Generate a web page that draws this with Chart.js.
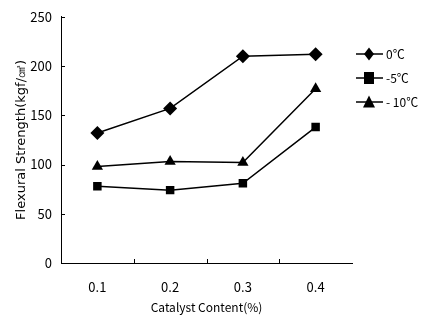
<!DOCTYPE html>
<html>
<head>
<meta charset="utf-8">
<script src="https://cdn.jsdelivr.net/npm/chart.js@4/dist/chart.umd.min.js"></script>
<style>
  html, body { margin: 0; padding: 0; background: #fff; }
  #wrap { width: 437px; height: 328px; }
</style>
</head>
<body>
<div id="wrap"><canvas id="canvasFlexural" width="437" height="328"></canvas></div>
<script>
const catalystContent = ["0.1", "0.2", "0.3", "0.4"];
const strength0C = [132, 157, 210, 212];
const strengthMinus5C = [78, 74, 81, 138];
const strengthMinus10C = [98, 103, 102, 177];
const seriesNames = ["0\u2103", "-5\u2103", "- 10\u2103"];
const yTicks = [0, 50, 100, 150, 200, 250];

const FONT = "'Noto Sans CJK KR', 'DejaVu Sans', sans-serif";
const TITLE_FONT = "'DejaVu Sans', sans-serif";

// short tick marks drawn inside the plot area
const innerTicks = {
    id: 'innerTicks',
    afterDraw(chart) {
        const ctx = chart.ctx;
        const x = chart.scales.x, y = chart.scales.y;
        ctx.save();
        ctx.strokeStyle = '#000';
        ctx.lineWidth = 1;
        ctx.beginPath();
        yTicks.forEach(v => {
            if (v === 0) return;
            const py = Math.round(y.getPixelForValue(v)) + 0.5;
            ctx.moveTo(x.left, py);
            ctx.lineTo(x.left + 4, py);
        });
        for (let i = 1; i < catalystContent.length; i++) {
            const px = Math.round((x.getPixelForValue(i - 1) + x.getPixelForValue(i)) / 2) + 0.5;
            ctx.moveTo(px, y.bottom);
            ctx.lineTo(px, y.bottom - 4);
        }
        ctx.stroke();
        ctx.restore();
    }
};

function drawMarker(ctx, style, cx, cy) {
    ctx.beginPath();
    if (style === 'rectRot') {
        ctx.moveTo(cx, cy - 6.5); ctx.lineTo(cx + 5, cy); ctx.lineTo(cx, cy + 6.5); ctx.lineTo(cx - 5, cy);
    } else if (style === 'rect') {
        ctx.rect(cx - 5, cy - 6, 10, 12);
    } else {
        ctx.moveTo(cx, cy - 6.5); ctx.lineTo(cx + 6, cy + 5.5); ctx.lineTo(cx - 6, cy + 5.5);
    }
    ctx.closePath();
    ctx.fill();
}

// legend: short line with marker, then the label
const lineLegend = {
    id: 'lineLegend',
    afterDraw(chart) {
        const ctx = chart.ctx;
        ctx.save();
        ctx.fillStyle = '#000';
        ctx.strokeStyle = '#000';
        ctx.lineWidth = 1.5;
        ctx.font = '12px ' + FONT;
        ctx.textBaseline = 'middle';
        chart.data.datasets.forEach((ds, i) => {
            const ly = 54 + i * 24;
            ctx.beginPath();
            ctx.moveTo(356, ly);
            ctx.lineTo(383, ly);
            ctx.stroke();
            drawMarker(ctx, ds.pointStyle, 369, ly);
            ctx.fillText(ds.label, 386, ly);
        });
        ctx.restore();
    }
};

const ctx = document.getElementById("canvasFlexural").getContext("2d");

function series(label, data, style, radius) {
    return {
        label: label,
        data: data,
        borderColor: '#000',
        backgroundColor: '#000',
        borderWidth: 1.5,
        pointStyle: style,
        pointRadius: radius,
        pointHoverRadius: radius,
        pointBorderWidth: 0,
        tension: 0
    };
}

new Chart(ctx, {
    type: 'line',
    data: {
        labels: catalystContent,
        datasets: [
            series(seriesNames[0], strength0C, 'rectRot', 7),
            series(seriesNames[1], strengthMinus5C, 'rect', 6),
            series(seriesNames[2], strengthMinus10C, 'triangle', 6.5)
        ]
    },
    options: {
        responsive: false,
        animation: false,
        layout: { padding: { top: 15, right: 85, bottom: 0, left: 0 } },
        plugins: {
            legend: { display: false },
            tooltip: { enabled: false }
        },
        scales: {
            x: {
                offset: true,
                grid: { display: false, drawTicks: false },
                border: { display: true, color: '#000', width: 1 },
                ticks: { color: '#000', font: { family: FONT, size: 13 }, padding: 16 },
                title: {
                    display: true,
                    text: 'Catalyst Content(%)',
                    color: '#000',
                    font: { family: FONT, size: 12 },
                    padding: { top: 4, bottom: 13 }
                },
                afterFit: s => { s.height = 65; }
            },
            y: {
                min: 0,
                max: 250,
                afterBuildTicks: s => { s.ticks = yTicks.map(v => ({ value: v })); },
                grid: { display: false, drawTicks: false },
                border: { display: true, color: '#000', width: 1 },
                ticks: { color: '#000', font: { family: FONT, size: 13 }, padding: 9 },
                title: {
                    display: true,
                    text: 'Flexural Strength(kgf/\u33A0)',
                    color: '#000',
                    font: { family: TITLE_FONT, size: 13 },
                    padding: { top: 14, bottom: 0 }
                },
                afterFit: s => { s.width = 61; }
            }
        }
    },
    plugins: [innerTicks, lineLegend]
});
</script>
</body>
</html>
